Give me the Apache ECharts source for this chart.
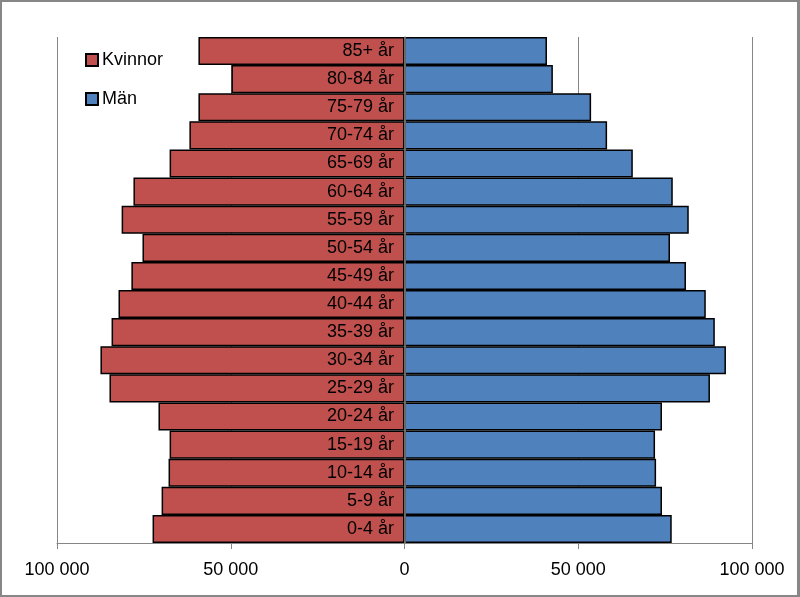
<!DOCTYPE html>
<html>
<head>
<meta charset="utf-8">
<script src="https://cdn.jsdelivr.net/npm/echarts@6/dist/echarts.min.js"></script>
<style>
html,body{margin:0;padding:0;background:#fff;}
#frame{position:absolute;left:0;top:0;width:800px;height:597px;box-sizing:border-box;border:2px solid #878787;border-right-width:3px;}
#chart{position:absolute;left:0;top:0;width:800px;height:597px;}
</style>
</head>
<body>
<div id="chart"></div>
<div id="frame"></div>
<script>
const categories = ['0-4 år','5-9 år','10-14 år','15-19 år','20-24 år','25-29 år','30-34 år','35-39 år','40-44 år','45-49 år','50-54 år','55-59 år','60-64 år','65-69 år','70-74 år','75-79 år','80-84 år','85+ år'];
const kvinnor = [72500, 69900, 67900, 67600, 70800, 84900, 87500, 84300, 82300, 78600, 75400, 81400, 78000, 67600, 61900, 59300, 49800, 59300];
const man = [76900, 74100, 72400, 72100, 74100, 87900, 92500, 89300, 86700, 81000, 76400, 81800, 77200, 65700, 58300, 53700, 42700, 41000];
const xTicks = [-100000, -50000, 0, 50000, 100000];

const FONT = 'Liberation Sans';
function fmt(v){
  const a = Math.abs(v);
  return String(a).replace(/\B(?=(\d{3})+(?!\d))/g, ' ');
}
const chart = echarts.init(document.getElementById('chart'), null, {renderer:'canvas'});
chart.setOption({
  animation:false,
  textStyle:{fontFamily:FONT},
  grid:{left:57, right:48, top:37, bottom:54, containLabel:false},
  legend:{
    orient:'vertical', left:80, top:46, itemWidth:12, itemHeight:12, itemGap:21, icon:'rect',
    textStyle:{fontFamily:FONT, fontSize:18, color:'#000', padding:[0,0,0,-1]},
    data:['Kvinnor','Män']
  },
  xAxis:{
    type:'value', min:xTicks[0], max:xTicks[xTicks.length-1], interval:50000,
    axisLine:{show:true, onZero:false, lineStyle:{color:'#868686', width:1}},
    axisTick:{show:true, inside:false, length:6, lineStyle:{color:'#868686'}},
    splitLine:{show:true, lineStyle:{color:'#868686', width:1}},
    axisLabel:{margin:18, fontFamily:FONT, fontSize:18, color:'#000', formatter:fmt}
  },
  yAxis:{
    type:'category', data:categories, z:10,
    axisLine:{show:true, onZero:true, lineStyle:{color:'#868686', width:1.5}},
    axisTick:{show:false},
    axisLabel:{show:true, margin:-337, align:'right', fontFamily:FONT, fontSize:18, color:'#000'}
  },
  series:[
    {name:'Kvinnor', type:'bar', stack:'pop', barCategoryGap:'0%',
     data:kvinnor.map(v=>-v),
     itemStyle:{color:'#C0504D', borderColor:'#000', borderWidth:1.5}},
    {name:'Män', type:'bar', stack:'pop', barCategoryGap:'0%',
     data:man,
     itemStyle:{color:'#4F81BD', borderColor:'#000', borderWidth:1.5}}
  ]
});
</script>
</body>
</html>
